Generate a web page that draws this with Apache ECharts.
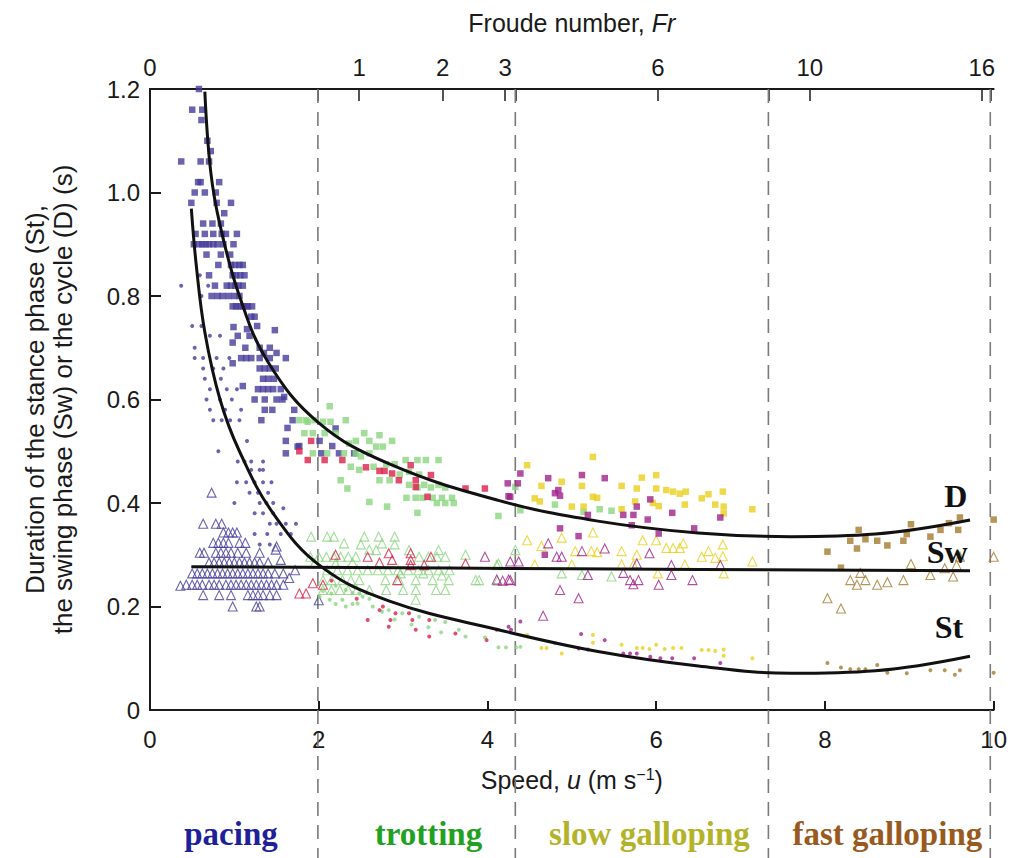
<!DOCTYPE html>
<html><head><meta charset="utf-8">
<script src="https://cdn.jsdelivr.net/npm/echarts@6/dist/echarts.min.js"></script>
<style>html,body{margin:0;padding:0;background:#fff}#c{width:1010px;height:858px}</style>
</head><body><div id="c"></div>
<script>
// ---------- axis ticks / labels ----------
const speedTicks = [0, 2, 4, 6, 8, 10];
const froudeLabels = ['0', '1', '2', '3', '6', '10', '16'];
const froudeAtSpeed = [0, 2.48, 3.47, 4.21, 6.02, 7.82, 9.86];   // speed (m/s) where each Froude label sits
const gaitBoundaries = [1.99, 4.33, 7.33, 9.96];                 // speeds of dashed gait boundaries
const gaitNames = ['pacing', 'trotting', 'slow galloping', 'fast galloping'];
const gaitCentres = [0.96, 3.30, 5.92, 8.74];

// ---------- fitted curves ----------
const curveD = [[0.65,1.195],[0.72,1.04],[0.83,0.937],[1.06,0.80],[1.40,0.672],[2.0,0.555],[2.83,0.476],[4.13,0.405],[5.31,0.365],[6.5,0.342],[7.6,0.335],[8.6,0.340],[9.72,0.367]];
const curveSt = [[0.49,0.969],[0.55,0.857],[0.65,0.73],[0.83,0.60],[1.06,0.50],[1.46,0.38],[2.03,0.277],[2.83,0.211],[4.13,0.155],[5.31,0.113],[6.5,0.085],[7.6,0.071],[8.6,0.076],[9.72,0.104]];
const curveSw = [[0.49,0.277],[5.0,0.273],[9.72,0.269]];

// ---------- pacing (blue) ----------
const pacingD = [[0.58,1.20],[0.50,1.16],[0.62,1.16],[0.61,1.14],[0.68,1.10],[0.72,1.08],[0.37,1.06],[0.60,1.06],[0.70,1.06],[0.57,1.02],[0.60,1.02],[0.82,1.02],[0.53,1.00],[0.65,1.00],[0.78,1.00],[0.49,0.98],[0.79,0.98],[0.96,0.98],[0.88,0.96],[0.63,0.94],[0.74,0.94],[0.84,0.94],[0.54,0.92],[0.65,0.92],[0.75,0.92],[0.85,0.92],[0.90,0.92],[1.03,0.92],[0.52,0.90],[0.58,0.90],[0.62,0.90],[0.66,0.90],[0.70,0.90],[0.75,0.90],[0.80,0.90],[0.87,0.90],[0.99,0.90],[0.67,0.88],[0.84,0.88],[0.95,0.88],[0.81,0.86],[0.96,0.86],[1.01,0.86],[1.06,0.86],[1.10,0.86],[0.70,0.84],[0.98,0.84],[1.02,0.84],[1.07,0.84],[1.12,0.84],[0.77,0.82],[0.91,0.82],[0.96,0.82],[1.01,0.82],[1.05,0.82],[1.10,0.82],[0.73,0.80],[0.80,0.80],[0.86,0.80],[0.93,0.80],[1.00,0.80],[1.06,0.80],[0.98,0.78],[1.02,0.78],[1.06,0.78],[1.10,0.78],[1.14,0.78],[1.16,0.78],[1.21,0.78],[1.20,0.76],[1.24,0.76],[0.99,0.74],[1.15,0.736],[1.27,0.742],[1.48,0.734],[1.04,0.723],[1.18,0.723],[0.98,0.71],[1.13,0.70],[1.30,0.70],[1.42,0.70],[1.35,0.69],[1.50,0.69],[0.98,0.67],[1.08,0.68],[1.14,0.68],[1.20,0.68],[1.30,0.68],[1.42,0.68],[1.61,0.68],[1.30,0.66],[1.36,0.66],[1.42,0.66],[1.49,0.66],[1.34,0.64],[1.40,0.64],[1.47,0.64],[1.10,0.626],[1.28,0.62],[1.34,0.62],[1.40,0.62],[1.46,0.62],[1.55,0.62],[1.24,0.60],[1.36,0.60],[1.50,0.60],[1.57,0.60],[1.59,0.605],[1.36,0.58],[1.45,0.58],[1.71,0.58],[1.32,0.56],[1.69,0.56],[1.63,0.545],[1.61,0.52],[1.75,0.509],[1.61,0.496],[1.77,0.51],[2.01,0.52],[2.16,0.51],[2.03,0.496],[2.24,0.496],[2.42,0.496],[2.20,0.544]];
const pacingSw = [[0.73,0.42],[0.63,0.36],[0.78,0.36],[0.85,0.36],[0.87,0.343],[0.93,0.343],[0.98,0.343],[1.03,0.343],[0.75,0.323],[0.81,0.323],[0.87,0.323],[0.93,0.323],[1.06,0.323],[1.13,0.323],[1.50,0.316],[0.59,0.304],[0.64,0.304],[0.78,0.304],[0.84,0.304],[0.90,0.304],[0.96,0.304],[1.04,0.304],[1.14,0.304],[1.30,0.304],[1.49,0.31],[0.70,0.285],[0.76,0.285],[0.82,0.285],[0.88,0.285],[0.94,0.285],[1.00,0.285],[1.06,0.285],[1.12,0.285],[1.18,0.285],[1.24,0.285],[1.30,0.285],[1.40,0.285],[1.55,0.29],[0.50,0.264],[0.56,0.264],[0.62,0.264],[0.68,0.264],[0.74,0.264],[0.80,0.264],[0.86,0.264],[0.92,0.264],[0.98,0.264],[1.04,0.264],[1.10,0.264],[1.16,0.264],[1.22,0.264],[1.28,0.264],[1.34,0.264],[1.40,0.264],[1.48,0.264],[1.58,0.264],[0.36,0.24],[0.43,0.242],[0.50,0.242],[0.56,0.242],[0.62,0.242],[0.70,0.242],[0.76,0.242],[0.82,0.242],[0.90,0.242],[0.96,0.242],[1.02,0.242],[1.08,0.242],[1.14,0.242],[1.20,0.242],[1.26,0.242],[1.32,0.242],[1.38,0.242],[1.44,0.242],[1.50,0.242],[1.58,0.242],[0.63,0.222],[0.82,0.222],[0.96,0.222],[1.16,0.222],[1.22,0.222],[1.28,0.222],[1.34,0.222],[1.42,0.222],[1.50,0.222],[0.98,0.20],[1.26,0.20],[1.30,0.20],[2.0,0.212],[1.65,0.255],[1.72,0.27]];
const pacingSt = [[0.37,0.82],[0.59,0.84],[0.69,0.82],[0.61,0.80],[0.50,0.742],[0.61,0.742],[0.71,0.723],[0.83,0.723],[0.53,0.70],[0.53,0.68],[0.63,0.68],[0.79,0.68],[0.94,0.68],[0.63,0.66],[0.75,0.66],[0.87,0.66],[0.65,0.64],[0.84,0.64],[0.71,0.62],[0.91,0.62],[1.03,0.62],[0.67,0.60],[0.83,0.60],[0.97,0.60],[0.71,0.58],[0.89,0.58],[1.08,0.58],[0.75,0.56],[0.85,0.56],[0.95,0.56],[1.06,0.56],[0.81,0.50],[1.15,0.52],[1.04,0.48],[1.12,0.48],[1.20,0.48],[1.34,0.48],[1.20,0.464],[1.30,0.464],[1.34,0.464],[1.03,0.44],[1.14,0.44],[1.24,0.44],[1.34,0.44],[1.44,0.44],[1.18,0.42],[1.28,0.42],[1.40,0.42],[1.00,0.40],[1.30,0.40],[1.38,0.40],[1.46,0.40],[1.24,0.38],[1.34,0.38],[1.46,0.38],[1.58,0.39],[1.42,0.36],[1.50,0.36],[1.61,0.36],[1.73,0.36],[1.24,0.34],[1.39,0.34],[1.55,0.34],[1.67,0.34],[1.30,0.32],[1.42,0.32]];

// ---------- trotting (green and red) ----------
const trotGreenD = [[2.13,0.587],[1.77,0.56],[1.87,0.557],[2.05,0.557],[2.14,0.557],[2.32,0.56],[1.85,0.56],[1.95,0.56],[1.83,0.535],[1.93,0.535],[2.07,0.535],[2.20,0.535],[2.36,0.515],[2.54,0.535],[2.72,0.531],[2.87,0.52],[2.44,0.52],[2.60,0.52],[2.68,0.509],[2.76,0.509],[1.93,0.496],[2.10,0.496],[2.30,0.496],[2.44,0.496],[2.50,0.49],[2.60,0.496],[2.38,0.47],[2.48,0.464],[2.65,0.47],[2.80,0.475],[2.90,0.475],[3.03,0.483],[3.17,0.483],[3.27,0.483],[3.42,0.483],[2.26,0.444],[2.34,0.428],[2.72,0.444],[2.84,0.444],[2.96,0.455],[3.07,0.46],[3.19,0.455],[3.07,0.435],[3.17,0.43],[3.25,0.435],[3.33,0.43],[3.42,0.435],[3.50,0.43],[2.60,0.402],[2.81,0.393],[3.04,0.41],[3.15,0.41],[3.23,0.41],[3.35,0.41],[3.46,0.41],[3.58,0.41],[3.17,0.381],[3.40,0.40],[3.50,0.40],[3.60,0.40],[4.13,0.375],[4.80,0.397],[5.33,0.388],[5.14,0.383],[4.39,0.386],[4.33,0.431],[5.47,0.385]];
const trotGreenSw = [[1.91,0.335],[2.10,0.335],[2.18,0.335],[2.30,0.322],[2.54,0.335],[2.71,0.335],[2.90,0.335],[2.75,0.322],[2.90,0.32],[2.68,0.309],[3.07,0.309],[3.42,0.309],[3.74,0.30],[4.11,0.28],[1.90,0.296],[2.00,0.296],[2.09,0.296],[2.18,0.296],[2.26,0.296],[2.35,0.296],[2.44,0.296],[3.19,0.296],[3.30,0.296],[3.40,0.296],[3.50,0.296],[4.13,0.283],[1.95,0.283],[2.20,0.283],[2.40,0.285],[2.10,0.27],[2.22,0.27],[2.34,0.27],[2.46,0.27],[2.58,0.27],[2.70,0.27],[2.82,0.27],[2.94,0.27],[3.06,0.27],[3.18,0.27],[3.30,0.27],[3.42,0.27],[3.55,0.27],[2.05,0.251],[2.15,0.251],[2.28,0.251],[2.38,0.251],[2.48,0.251],[2.79,0.251],[2.95,0.251],[3.15,0.251],[3.35,0.251],[3.54,0.251],[3.86,0.251],[3.90,0.251],[2.97,0.264],[3.24,0.264],[3.46,0.26],[2.05,0.232],[2.15,0.232],[2.25,0.232],[2.35,0.232],[2.45,0.232],[2.60,0.232],[2.80,0.232],[3.00,0.232],[3.15,0.232],[3.39,0.232],[3.50,0.232],[3.15,0.213],[2.50,0.32],[2.60,0.31],[4.33,0.309],[4.88,0.264],[5.12,0.261],[5.47,0.258],[4.12,0.25]];
const trotGreenSt = [[2.32,0.232],[2.40,0.226],[2.52,0.219],[2.28,0.213],[2.46,0.206],[2.64,0.20],[2.83,0.193],[2.99,0.187],[3.19,0.18],[3.38,0.174],[3.50,0.17],[3.66,0.155],[3.74,0.142],[3.97,0.14],[4.13,0.121],[4.22,0.121],[4.34,0.121],[2.13,0.213],[2.01,0.219],[2.20,0.205],[2.32,0.20],[2.40,0.205],[2.05,0.23],[2.15,0.225],[2.60,0.215],[2.75,0.19],[2.90,0.175],[3.10,0.165],[3.30,0.16],[3.45,0.15],[4.80,0.129],[4.39,0.122],[2.20,0.24],[2.48,0.225]];
const trotRedD = [[1.91,0.52],[1.77,0.50],[1.87,0.483],[2.07,0.483],[2.28,0.483],[2.56,0.469],[2.72,0.462],[2.78,0.462],[2.87,0.457],[2.95,0.444],[3.09,0.473],[3.15,0.444],[3.15,0.431],[3.33,0.454],[3.29,0.412],[3.74,0.428],[3.97,0.428]];
const trotRedSw = [[2.58,0.296],[2.83,0.303],[3.09,0.303],[3.33,0.296],[3.74,0.283],[2.72,0.285],[2.87,0.29],[3.09,0.29],[3.09,0.28],[3.25,0.28],[2.93,0.251],[2.05,0.242],[1.77,0.225],[1.85,0.225],[1.93,0.245],[2.20,0.30]];
const trotRedSt = [[2.58,0.174],[2.72,0.193],[2.76,0.20],[2.85,0.174],[2.83,0.161],[2.91,0.187],[3.07,0.187],[3.11,0.174],[3.15,0.155],[3.31,0.174],[3.31,0.142],[3.62,0.148],[3.99,0.135],[4.11,0.155],[2.15,0.25],[2.45,0.215]];

// ---------- slow galloping (magenta and yellow) ----------
const slowMagD = [[4.24,0.438],[4.27,0.412],[4.39,0.457],[4.36,0.438],[4.72,0.448],[4.80,0.419],[4.84,0.425],[4.86,0.414],[5.12,0.454],[5.39,0.448],[4.86,0.351],[5.08,0.336],[4.68,0.30],[5.19,0.377],[5.61,0.377],[5.73,0.377],[5.71,0.357],[5.77,0.393],[5.90,0.368],[5.93,0.407],[6.03,0.341],[6.19,0.381],[6.45,0.351],[6.76,0.372],[4.25,0.413]];
const slowMagSw = [[4.72,0.322],[4.88,0.296],[4.82,0.296],[5.12,0.307],[5.39,0.312],[4.37,0.287],[4.27,0.287],[4.27,0.251],[4.18,0.25],[4.86,0.232],[5.08,0.216],[4.66,0.182],[5.19,0.261],[5.61,0.265],[5.69,0.251],[5.73,0.243],[5.79,0.251],[5.77,0.283],[5.92,0.303],[6.03,0.242],[6.18,0.261],[6.18,0.28],[6.43,0.251],[6.76,0.28],[4.25,0.252],[4.11,0.252],[3.97,0.296]];
const slowMagSt = [[4.25,0.161],[4.28,0.155],[4.39,0.171],[5.11,0.147],[5.39,0.135],[5.08,0.119],[5.61,0.109],[5.69,0.109],[5.77,0.109],[5.93,0.103],[6.05,0.10],[6.19,0.10],[6.45,0.10],[6.76,0.091],[5.19,0.117]];
const slowYelD = [[4.47,0.473],[5.25,0.489],[4.64,0.433],[4.88,0.441],[5.12,0.433],[4.56,0.409],[4.62,0.403],[5.00,0.393],[5.14,0.393],[5.25,0.412],[5.30,0.41],[5.59,0.433],[5.59,0.388],[5.75,0.403],[5.77,0.428],[5.83,0.449],[6.00,0.454],[6.00,0.428],[5.96,0.40],[6.03,0.394],[6.12,0.425],[6.20,0.422],[6.28,0.418],[6.35,0.422],[6.34,0.397],[6.54,0.409],[6.62,0.417],[6.70,0.397],[6.79,0.422],[6.80,0.393],[7.14,0.388],[6.80,0.38]];
const slowYelSw = [[4.47,0.328],[4.64,0.317],[4.88,0.333],[5.25,0.343],[5.23,0.307],[5.30,0.305],[5.04,0.307],[5.59,0.307],[5.84,0.328],[6.00,0.328],[5.77,0.30],[6.12,0.313],[6.20,0.313],[6.28,0.313],[6.32,0.322],[6.54,0.296],[6.62,0.307],[6.70,0.294],[6.79,0.297],[6.79,0.32],[7.14,0.287],[4.56,0.281],[5.00,0.281],[5.59,0.281],[5.73,0.281],[6.02,0.264],[6.34,0.281],[6.80,0.264]];
const slowYelSt = [[4.47,0.145],[4.88,0.109],[5.25,0.145],[5.25,0.13],[5.59,0.126],[5.77,0.12],[5.84,0.12],[5.92,0.118],[6.00,0.126],[6.10,0.118],[6.20,0.12],[6.30,0.12],[6.54,0.116],[6.62,0.116],[6.70,0.114],[6.80,0.117],[6.80,0.105],[7.14,0.10],[4.64,0.12],[4.70,0.12]];

// ---------- fast galloping (brown) ----------
const fastD = [[8.03,0.306],[8.30,0.327],[8.40,0.348],[8.48,0.33],[8.38,0.312],[8.62,0.327],[8.74,0.318],[8.93,0.327],[8.97,0.34],[9.02,0.359],[9.25,0.335],[9.37,0.348],[9.47,0.361],[9.58,0.348],[9.60,0.372],[10.0,0.368],[8.19,0.275]];
const fastSw = [[8.03,0.216],[8.19,0.196],[8.30,0.251],[8.38,0.242],[8.42,0.265],[8.48,0.251],[8.62,0.242],[8.74,0.247],[8.93,0.251],[9.02,0.282],[9.25,0.261],[9.42,0.274],[9.52,0.258],[9.56,0.28],[9.60,0.296],[10.0,0.296]];
const fastSt = [[8.03,0.091],[8.19,0.082],[8.30,0.079],[8.40,0.079],[8.48,0.079],[8.62,0.087],[8.74,0.072],[8.97,0.071],[9.25,0.077],[9.42,0.077],[9.54,0.068],[9.60,0.077],[10.0,0.072]];

// ---------- styling ----------
const FONT = 'Liberation Sans, Arial, sans-serif';
const SERIF = 'Liberation Serif, Times New Roman, serif';
const INK = '#1a1a1a';
const C = {blue:'#463c9a', green:'#8bd47f', red:'#d8204a', mag:'#a0228a', yel:'#e9cf1b', brown:'#a57a2e'};
const gaitColors = ['#1f1f9a', '#22a022', '#b3b32a', '#985a1e'];

function pts(data, color, kind) {
  const base = {type:'scatter', data, xAxisIndex:0, yAxisIndex:0, clip:false, silent:true, z:2};
  if (kind === 'D') return Object.assign(base, {symbol:'rect', symbolSize:6.5, itemStyle:{color}});
  if (kind === 'Sw') return Object.assign(base, {symbol:'triangle', symbolSize:9,
      itemStyle:{color:'rgba(255,255,255,0)', borderColor:color, borderWidth:1.1}});
  return Object.assign(base, {symbol:'circle', symbolSize:4, itemStyle:{color}});
}
function curve(data) {
  return {type:'line', data, smooth:0.4, showSymbol:false, silent:true, z:5,
    lineStyle:{color:'#111', width:3}};
}

const chart = echarts.init(document.getElementById('c'), null, {renderer:'svg'});
chart.setOption({
  animation:false,
  backgroundColor:'#fff',
  grid:{left:150, right:13, top:89, bottom:148},
  xAxis:[{
    type:'value', min:0, max:10, interval:2, position:'bottom',
    axisLine:{show:true, lineStyle:{color:INK, width:2}},
    axisTick:{show:true, inside:true, length:9, lineStyle:{color:INK, width:2}},
    axisLabel:{fontSize:24, color:INK, fontFamily:FONT, margin:17},
    splitLine:{show:false},
    name:'Speed, {it|u} (m s{sup|−1})', nameLocation:'middle', nameGap:56,
    nameTextStyle:{fontSize:25, color:INK, fontFamily:FONT,
      rich:{it:{fontStyle:'italic', fontSize:25, fontFamily:FONT, color:INK},
            sup:{fontSize:16, fontFamily:FONT, color:INK, verticalAlign:'top', padding:[0,0,12,0]}}}
  },{
    type:'value', min:0, max:10, position:'top',
    axisLine:{show:true, lineStyle:{color:INK, width:2}},
    axisTick:{show:true, inside:true, length:12, lineStyle:{color:INK, width:1.5},
      customValues: froudeAtSpeed.concat(gaitBoundaries)},
    axisLabel:{fontSize:24, color:INK, fontFamily:FONT, margin:10,
      customValues: froudeAtSpeed,
      formatter: v => { const i = froudeAtSpeed.findIndex(p => Math.abs(p - v) < 1e-6); return i >= 0 ? froudeLabels[i] : ''; }},
    splitLine:{show:false},
    name:'Froude number, {it|Fr}', nameLocation:'middle', nameGap:54,
    nameTextStyle:{fontSize:25, color:INK, fontFamily:FONT,
      rich:{it:{fontStyle:'italic', fontSize:25, fontFamily:FONT, color:INK}}}
  }],
  yAxis:{
    type:'value', min:0, max:1.2, interval:0.2,
    axisLine:{show:true, lineStyle:{color:INK, width:2}},
    axisTick:{show:true, inside:true, length:11, lineStyle:{color:INK, width:2}},
    axisLabel:{fontSize:24, color:INK, fontFamily:FONT, margin:10,
      formatter: v => v === 0 ? '0' : v.toFixed(1)},
    splitLine:{show:false},
    name:'Duration of the stance phase (St),\nthe swing phase (Sw) or the cycle (D) (s)',
    nameLocation:'middle', nameRotate:90, nameGap:73,
    nameTextStyle:{fontSize:26, color:INK, fontFamily:FONT, lineHeight:28, align:'center'}
  },
  series:[
    pts(pacingSw, C.blue, 'Sw'), pts(trotGreenSw, C.green, 'Sw'), pts(trotRedSw, C.red, 'Sw'),
    pts(slowYelSw, C.yel, 'Sw'), pts(slowMagSw, C.mag, 'Sw'), pts(fastSw, C.brown, 'Sw'),
    pts(pacingD, C.blue, 'D'), pts(trotGreenD, C.green, 'D'), pts(trotRedD, C.red, 'D'),
    pts(slowYelD, C.yel, 'D'), pts(slowMagD, C.mag, 'D'), pts(fastD, C.brown, 'D'),
    pts(pacingSt, C.blue, 'St'), pts(trotGreenSt, C.green, 'St'), pts(trotRedSt, C.red, 'St'),
    pts(slowYelSt, C.yel, 'St'), pts(slowMagSt, C.mag, 'St'), pts(fastSt, C.brown, 'St'),
    curve(curveD), curve(curveSw), curve(curveSt),
    { // dashed gait boundaries, extending below the axis through the gait labels
      type:'custom', clip:false, silent:true, z:1,
      data: gaitBoundaries.map(b => [b]),
      renderItem: (params, api) => {
        const a = api.coord([api.value(0), 1.2]);
        const b = api.coord([api.value(0), -0.29]);
        return {type:'line', shape:{x1:a[0], y1:a[1], x2:b[0], y2:b[1]},
          style:{stroke:'#7a7a7a', lineWidth:1.6, lineDash:[14,9]}};
      }
    },
    { // gait names below the axis
      type:'custom', clip:false, silent:true, z:6,
      data: gaitNames.map((n, i) => [gaitCentres[i], -0.24, i]),
      renderItem: (params, api) => {
        const p = api.coord([api.value(0), api.value(1)]);
        const i = api.value(2);
        return {type:'text', x:p[0], y:p[1],
          style:{text:gaitNames[i], fill:gaitColors[i], font:'bold 33px ' + SERIF, align:'center', verticalAlign:'middle'}};
      }
    },
    { // curve labels
      type:'custom', clip:false, silent:true, z:6,
      data: [[9.55, 0.414, 0], [9.45, 0.306, 1], [9.47, 0.16, 2]],
      renderItem: (params, api) => {
        const p = api.coord([api.value(0), api.value(1)]);
        const t = ['D', 'Sw', 'St'][api.value(2)];
        return {type:'text', x:p[0], y:p[1],
          style:{text:t, fill:'#111', font:'bold 32px ' + SERIF, align:'center', verticalAlign:'middle'}};
      }
    }
  ]
});
</script></body></html>
